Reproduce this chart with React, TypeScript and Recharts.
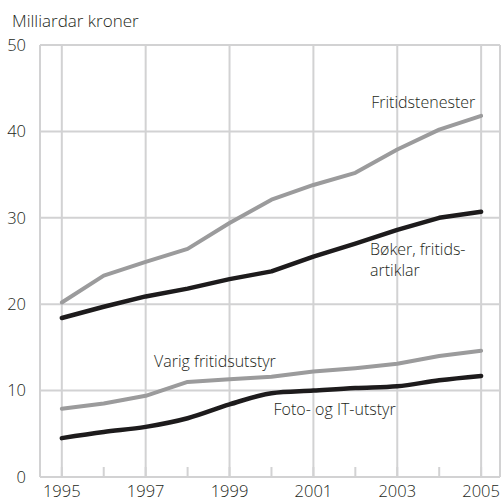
import { LineChart, Line, XAxis, YAxis, CartesianGrid, ReferenceLine, ReferenceDot } from "recharts"

const years = [1995, 1996, 1997, 1998, 1999, 2000, 2001, 2002, 2003, 2004, 2005]
const fritidstenester = [20.2, 23.3, 24.9, 26.4, 29.4, 32.1, 33.8, 35.2, 37.9, 40.2, 41.8]
const boker = [18.4, 19.7, 20.9, 21.8, 22.9, 23.8, 25.5, 27.0, 28.6, 30.0, 30.7]
const varig = [7.9, 8.5, 9.4, 11.0, 11.3, 11.6, 12.2, 12.6, 13.1, 14.0, 14.6]
const foto = [4.5, 5.2, 5.8, 6.8, 8.4, 9.7, 10.0, 10.3, 10.5, 11.2, 11.7]
const yTicks = [0, 10, 20, 30, 40, 50]
const labelYears = [1995, 1997, 1999, 2001, 2003, 2005]

const data = years.map((year, i) => ({
  year,
  fritidstenester: fritidstenester[i],
  boker: boker[i],
  varig: varig[i],
  foto: foto[i],
}))

const FONT = "'Open Sans', sans-serif"
const GRID = "#d2d2d3"
const GREY = "#9b9b9c"
const BLACK = "#1d1b1c"
const TEXT = "#231f20"

const textLabel = (lines: string[], anchor: "start" | "end") => (props: any) => {
  const { viewBox } = props
  const x = viewBox.x + viewBox.width / 2
  const y = viewBox.y + viewBox.height / 2
  return (
    <text x={x} y={y} textAnchor={anchor} fontFamily={FONT} fontWeight={300} fontSize={16} fill={TEXT}>
      {lines.map((l, i) => (
        <tspan key={i} x={x} dy={i === 0 ? "0.35em" : "1.3em"}>
          {l}
        </tspan>
      ))}
    </text>
  )
}

export default function App() {
  return (
    <div style={{ position: "absolute", left: 0, top: 0, width: 503, height: 502, background: "white" }}>
      <div
        style={{
          position: "absolute",
          left: 12,
          top: 10,
          fontFamily: FONT,
          fontWeight: 300,
          fontSize: 17,
          color: TEXT,
          lineHeight: "22px",
        }}
      >
        Milliardar kroner
      </div>
      <LineChart width={503} height={502} data={data} margin={{ top: 45, right: 3, left: 0, bottom: 0 }}>
        <CartesianGrid vertical={false} stroke={GRID} strokeWidth={2} />
        {labelYears.map((y) => (
          <ReferenceLine key={y} x={y} stroke={GRID} strokeWidth={2} />
        ))}
        <ReferenceLine x={1994.48} stroke={GRID} strokeWidth={2} />
        <ReferenceLine x={2005.45} stroke={GRID} strokeWidth={2} />
        <XAxis
          dataKey="year"
          type="number"
          domain={[1994.48, 2005.45]}
          ticks={years}
          interval={0}
          tickFormatter={(v) => (labelYears.includes(v) ? String(v) : "")}
          height={25}
          axisLine={{ stroke: GRID, strokeWidth: 2 }}
          tickLine={{ stroke: GRID, strokeWidth: 2 }}
          tickSize={-10}
          tickMargin={18}
          tick={{ fontFamily: FONT, fontWeight: 300, fontSize: 16.5, fill: TEXT }}
        />
        <YAxis
          domain={[0, 50]}
          ticks={yTicks}
          width={40}
          axisLine={false}
          tickLine={false}
          tickMargin={8}
          tick={{ fontFamily: FONT, fontWeight: 300, fontSize: 16.5, fill: TEXT }}
        />
        <Line type="linear" dataKey="fritidstenester" stroke={GREY} strokeWidth={4} strokeLinejoin="round" strokeLinecap="round" dot={false} isAnimationActive={false} />
        <Line type="linear" dataKey="boker" stroke={BLACK} strokeWidth={4.5} strokeLinejoin="round" strokeLinecap="round" dot={false} isAnimationActive={false} />
        <Line type="linear" dataKey="varig" stroke={GREY} strokeWidth={4} strokeLinejoin="round" strokeLinecap="round" dot={false} isAnimationActive={false} />
        <Line type="monotone" dataKey="foto" stroke={BLACK} strokeWidth={4.5} strokeLinejoin="round" strokeLinecap="round" dot={false} isAnimationActive={false} />
        <ReferenceDot x={2004.86} y={43.3} r={0} stroke="none" label={textLabel(["Fritidstenester"], "end")} />
        <ReferenceDot x={2002.35} y={26.3} r={0} stroke="none" label={textLabel(["Bøker, fritids-", "artiklar"], "start")} />
        <ReferenceDot x={1997.2} y={13.4} r={0} stroke="none" label={textLabel(["Varig fritidsutstyr"], "start")} />
        <ReferenceDot x={2000.05} y={7.85} r={0} stroke="none" label={textLabel(["Foto- og IT-utstyr"], "start")} />
      </LineChart>
    </div>
  )
}
